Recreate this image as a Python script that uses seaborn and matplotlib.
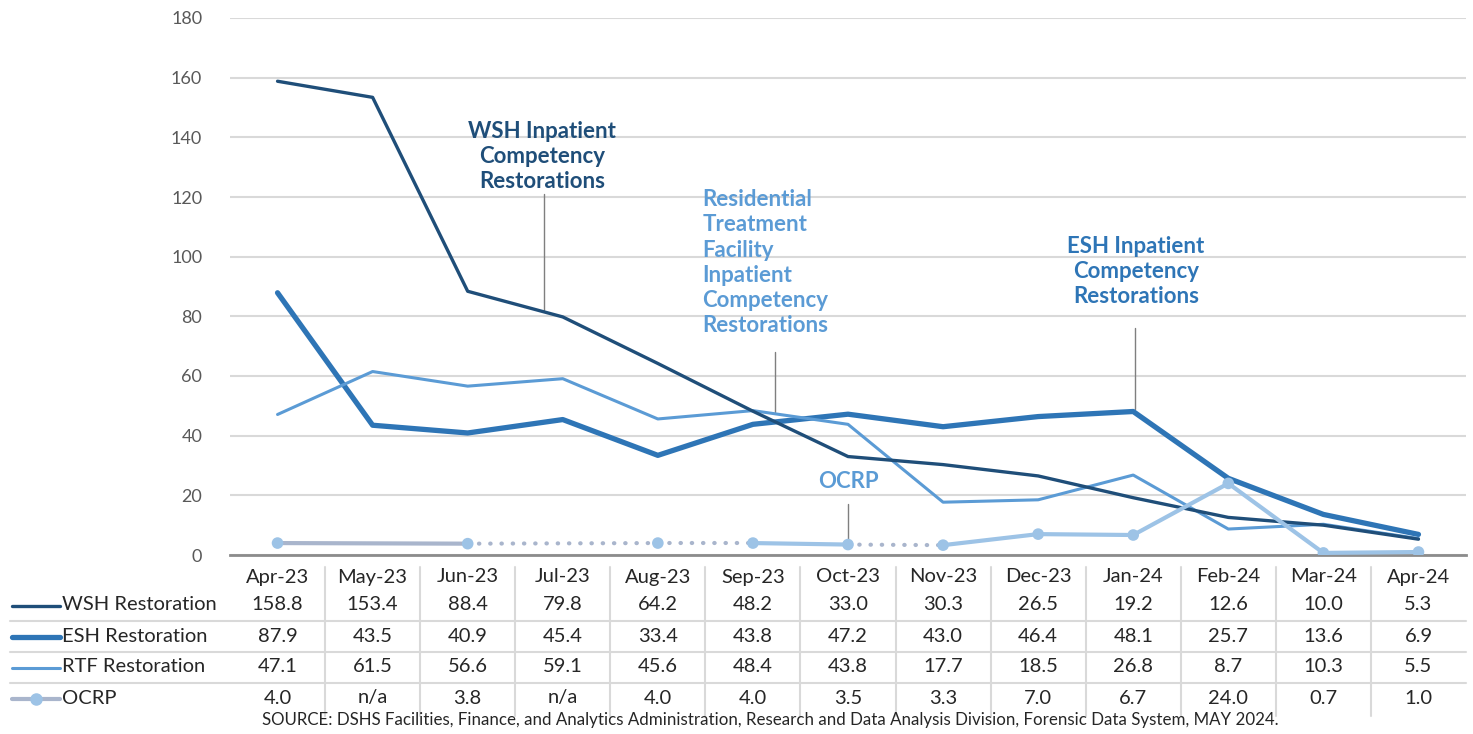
import numpy as np
import pandas as pd
import matplotlib
matplotlib.use("Agg")
import matplotlib.pyplot as plt
import matplotlib.transforms as mtransforms
from matplotlib.lines import Line2D
import seaborn as sns

# ── Data ──────────────────────────────────────────────────────────────────
months = ["Apr-23", "May-23", "Jun-23", "Jul-23", "Aug-23", "Sep-23", "Oct-23",
          "Nov-23", "Dec-23", "Jan-24", "Feb-24", "Mar-24", "Apr-24"]
wsh = [158.8, 153.4, 88.4, 79.8, 64.2, 48.2, 33.0, 30.3, 26.5, 19.2, 12.6, 10.0, 5.3]
esh = [87.9, 43.5, 40.9, 45.4, 33.4, 43.8, 47.2, 43.0, 46.4, 48.1, 25.7, 13.6, 6.9]
rtf = [47.1, 61.5, 56.6, 59.1, 45.6, 48.4, 43.8, 17.7, 18.5, 26.8, 8.7, 10.3, 5.5]
ocrp = [4.0, np.nan, 3.8, np.nan, 4.0, 4.0, 3.5, 3.3, 7.0, 6.7, 24.0, 0.7, 1.0]
# how each OCRP segment between reported months is drawn in the source chart
ocrp_seg_style = ["solid", "dotted", "dotted", "solid", "dotted",
                  "solid", "solid", "solid", "solid", "solid"]

series_names = ["WSH Restoration", "ESH Restoration", "RTF Restoration", "OCRP"]

C_WSH = "#1F4E79"
C_ESH = "#2E75B6"
C_RTF = "#5B9BD5"
C_OCRP = "#9DC3E6"
C_OCRP_GAP = "#A9B5CC"
C_GRID = "#D9D9D9"
C_TEXT = "#262626"

sns.set_theme(style="white")
plt.rcParams["font.family"] = ["Lato", "DejaVu Sans"]

W, H = 1473, 734
fig = plt.figure(figsize=(W / 100, H / 100), dpi=100)
ax = fig.add_axes([230 / W, 1 - 555 / H, 1236 / W, 537 / H])

x = np.arange(len(months))
df = pd.DataFrame({"x": x, "wsh": wsh, "esh": esh, "rtf": rtf, "ocrp": ocrp})

sns.lineplot(data=df, x="x", y="wsh", ax=ax, color=C_WSH, lw=2.4, zorder=4)
sns.lineplot(data=df, x="x", y="esh", ax=ax, color=C_ESH, lw=3.8, zorder=3)
sns.lineplot(data=df, x="x", y="rtf", ax=ax, color=C_RTF, lw=2.2, zorder=3)

# OCRP: connect reported months, dotted across missing months
valid = df.dropna(subset=["ocrp"])
vx, vy = valid["x"].values, valid["ocrp"].values
for i in range(len(vx) - 1):
    style = ocrp_seg_style[i]
    if style == "solid":
        col = C_OCRP_GAP if vx[i + 1] - vx[i] > 1 else C_OCRP
        ax.plot(vx[i:i + 2], vy[i:i + 2], color=col, lw=3.0, zorder=5,
                solid_capstyle="round")
    else:
        ax.plot(vx[i:i + 2], vy[i:i + 2], color=C_OCRP_GAP, lw=3.0, zorder=5,
                linestyle=(0, (0.1, 2.6)), dash_capstyle="round")
sns.scatterplot(x=vx, y=vy, ax=ax, color=C_OCRP, s=70, edgecolor="none", zorder=6)

ax.set_xlim(-0.5, len(months) - 0.5)
ax.set_ylim(0, 180)
ax.set_yticks(np.arange(0, 181, 20))
ax.set_xticks([])
ax.set_xlabel("")
ax.set_ylabel("")
ax.tick_params(axis="y", labelsize=13, labelcolor="#595959", length=0, pad=20)
ax.yaxis.grid(True, color=C_GRID, lw=1.5)
ax.set_axisbelow(True)
for s in ["top", "right", "left"]:
    ax.spines[s].set_visible(False)
ax.spines["bottom"].set_color("#8C8C8C")
ax.spines["bottom"].set_linewidth(2)

# ── Annotations ───────────────────────────────────────────────────────────
bold = dict(fontsize=16, fontweight="bold", linespacing=1.25)
ax.text(2.78, 133.5, "WSH Inpatient\nCompetency\nRestorations", color=C_WSH,
        ha="center", va="center", **bold)
ax.plot([2.8, 2.8], [82, 121], color="#7F7F7F", lw=1)

ax.text(4.47, 98, "Residential\nTreatment\nFacility\nInpatient\nCompetency\nRestorations",
        color=C_RTF, ha="left", va="center", **bold)
ax.plot([5.23, 5.23], [48, 68], color="#7F7F7F", lw=1)

ax.text(9.03, 95, "ESH Inpatient\nCompetency\nRestorations", color=C_ESH,
        ha="center", va="center", **bold)
ax.plot([9.02, 9.02], [49, 76], color="#7F7F7F", lw=1)

ax.text(6.0, 24.5, "OCRP", color=C_RTF, ha="center", va="center", **bold)
ax.plot([6.0, 6.0], [5, 17], color="#7F7F7F", lw=1)

# ── Data table ────────────────────────────────────────────────────────────
tr = mtransforms.blended_transform_factory(ax.transData, fig.transFigure)
fy = lambda py: 1 - py / H
fx = lambda px: px / W

header_y = 577
row_y = [605, 636, 667, 698]
for i, m in enumerate(months):
    ax.text(i, fy(header_y), m, transform=tr, ha="center", va="center",
            fontsize=14.5, color=C_TEXT, clip_on=False)

table_vals = [wsh, esh, rtf, ocrp]
for r, vals in enumerate(table_vals):
    for i, v in enumerate(vals):
        s = "n/a" if np.isnan(v) else f"{v:.1f}"
        ax.text(i, fy(row_y[r]), s, transform=tr, ha="center", va="center",
                fontsize=14.5, color=C_TEXT, clip_on=False)
    fig.text(fx(62), fy(row_y[r]), series_names[r], ha="left", va="center",
             fontsize=14.5, color=C_TEXT)

# legend keys
fig.add_artist(Line2D([fx(12), fx(60)], [fy(606)] * 2, color=C_WSH, lw=2.4,
                      solid_capstyle="round"))
fig.add_artist(Line2D([fx(12), fx(60)], [fy(637)] * 2, color=C_ESH, lw=3.8,
                      solid_capstyle="round"))
fig.add_artist(Line2D([fx(12), fx(60)], [fy(668)] * 2, color=C_RTF, lw=2.2,
                      solid_capstyle="round"))
fig.add_artist(Line2D([fx(12), fx(60)], [fy(699)] * 2, color=C_OCRP_GAP, lw=3.0,
                      solid_capstyle="round"))
fig.add_artist(Line2D([fx(36)], [fy(699)], color=C_OCRP, marker="o",
                      markersize=8, lw=0))

# table grid
for yy in [621, 652, 683]:
    fig.add_artist(Line2D([fx(10), fx(1466)], [fy(yy)] * 2, color=C_GRID, lw=1.5))
for i in range(len(months) - 1):
    ax.plot([i + 0.5, i + 0.5], [fy(567), fy(716)], transform=tr,
            color=C_GRID, lw=1.5, clip_on=False)

fig.text(fx(770), fy(720), "SOURCE: DSHS Facilities, Finance, and Analytics Administration, "
         "Research and Data Analysis Division, Forensic Data System, MAY 2024.",
         ha="center", va="center", fontsize=12.2, color=C_TEXT)

fig.savefig("out.png", dpi=100)
plt.close(fig)
